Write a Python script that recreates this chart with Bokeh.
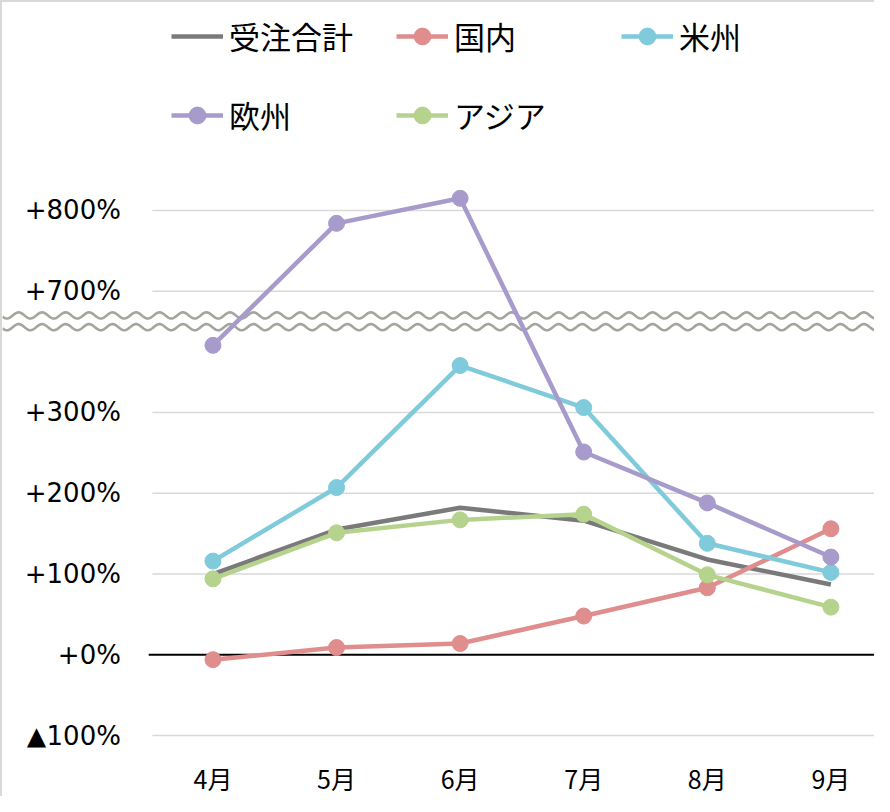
import numpy as np
from bokeh.plotting import figure
from bokeh.models import Range1d, FixedTicker, Legend, LegendItem
from bokeh.core.properties import value
from bokeh.embed import file_html
from bokeh.resources import INLINE

# ---- data ----
MONTHS = ["4月", "5月", "6月", "7月", "8月", "9月"]
SERIES_NAMES = ["受注合計", "国内", "米州", "欧州", "アジア"]
TOTAL = [100, 155, 182, 166, 118, 87]
DOMESTIC = [-6, 9, 14, 48, 83, 156]
AMERICAS = [116, 207, 358, 306, 138, 102]
EUROPE = [383, 784, 815, 251, 188, 121]
ASIA = [94, 151, 167, 174, 99, 59]
Y_TICK_VALUES = [-100, 0, 100, 200, 300, 700, 800]
Y_TICK_LABELS = ["▲100%", "+0%", "+100%", "+200%", "+300%", "+700%", "+800%"]

# broken axis: values above BREAK_AT are shifted down by BREAK_GAP
BREAK_AT = 500
BREAK_GAP = 250


def to_display(v):
    return v if v < BREAK_AT else v - BREAK_GAP


COLORS = ["#7a7a7a", "#DF8D8D", "#7FCADB", "#A79BCB", "#B5D38C"]
SERIES = [TOTAL, DOMESTIC, AMERICAS, EUROPE, ASIA]
HAS_MARKER = [False, True, True, True, True]

xs = list(range(len(MONTHS)))
X_START, X_END = -1.703, 5.369      # visible x span (category index units)
PLOT_LEFT = -0.49                    # left end of the grid lines
LABEL_X = -0.745                     # right edge of the y tick labels

p = figure(
    width=874, height=796,
    x_range=Range1d(X_START, X_END), y_range=Range1d(-114.7, 807.3),
    output_backend="svg", toolbar_location=None,
    min_border_left=0, min_border_right=0, min_border_top=0, min_border_bottom=42,
    background_fill_color="white", border_fill_color="white",
)
p.styles = {"border-top": "2px solid #d9d9d9", "border-left": "2px solid #d9d9d9"}
p.outline_line_color = None
p.yaxis.visible = False
p.xgrid.visible = False
p.ygrid.visible = False

# x axis
p.xaxis.ticker = FixedTicker(ticks=xs)
p.xaxis.major_label_overrides = {i: m for i, m in zip(xs, MONTHS)}
p.xaxis.axis_line_color = None
p.xaxis.major_tick_line_color = None
p.xaxis.minor_tick_line_color = None
p.xaxis.major_tick_in = 0
p.xaxis.major_tick_out = 0
p.xaxis.major_label_text_color = "black"
p.xaxis.major_label_text_font = "Noto Sans CJK JP"
p.xaxis.major_label_text_font_size = "25px"
p.xaxis.major_label_standoff = 12

# y grid lines, zero line and tick labels
ty = [to_display(v) for v in Y_TICK_VALUES]
grid_y = [y for v, y in zip(Y_TICK_VALUES, ty) if v != 0]
p.segment(x0=PLOT_LEFT, x1=X_END + 0.1, y0=grid_y, y1=grid_y,
          line_color="#d9d9d9", line_width=1.5)

# break marks (two wavy lines across the whole chart)
WAVE_COLOR = "#a3a69d"
period = 0.19
for center in (420, 405.5):
    wx = np.linspace(X_START, X_END, 1200)
    wy = center + 3.8 * np.sin(2 * np.pi * (wx + 2) / period)
    p.line(wx, wy, line_color=WAVE_COLOR, line_width=2.6)

p.segment(x0=PLOT_LEFT - 0.03, x1=X_END + 0.1, y0=to_display(0), y1=to_display(0),
          line_color="black", line_width=2)

p.text(x=LABEL_X, y=ty, text=Y_TICK_LABELS, text_align="right", text_baseline="middle",
       text_font=value("DejaVu Sans"), text_font_size="26px", text_color="black")

items = []
for name, vals, color, mk in zip(SERIES_NAMES, SERIES, COLORS, HAS_MARKER):
    ys = [to_display(v) for v in vals]
    r = [p.line(xs, ys, line_color=color, line_width=4.5, line_join="round")]
    if mk:
        r.append(p.scatter(xs, ys, size=16, fill_color=color, line_color=color))
    items.append(LegendItem(label=name, renderers=r))

legend = Legend(
    items=items, location=(169, 610), orientation="horizontal", ncols=3,
    glyph_width=52, glyph_height=42, label_width=133, label_height=42,
    label_standoff=6, spacing=34, padding=0, margin=0,
    border_line_color=None, background_fill_alpha=0,
    label_text_font="Noto Sans CJK JP", label_text_font_size="31px",
    label_text_color="black",
)
p.add_layout(legend)

open("out.html", "w").write(file_html(p, INLINE))
